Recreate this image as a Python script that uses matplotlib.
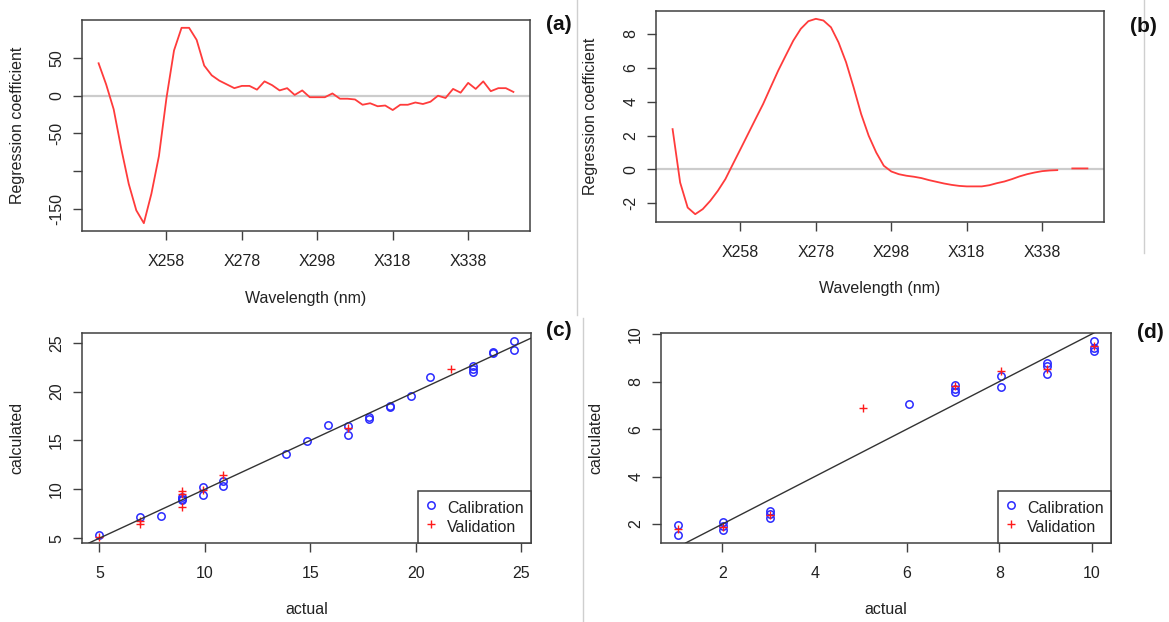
import numpy as np
import matplotlib.pyplot as plt
from matplotlib.lines import Line2D

plt.rcParams['font.family'] = ['Liberation Sans', 'DejaVu Sans']

# ---------------- data ----------------
wavelength = [240, 242, 244, 246, 248, 250, 252, 254, 256, 258,
              260, 262, 264, 266, 268, 270, 272, 274, 276, 278,
              280, 282, 284, 286, 288, 290, 292, 294, 296, 298,
              300, 302, 304, 306, 308, 310, 312, 314, 316, 318,
              320, 322, 324, 326, 328, 330, 332, 334, 336, 338,
              340, 342, 344, 346, 348, 350]

coef_a = [43, 15, -18, -70, -117, -152, -169, -130, -80, -3,
          60, 90, 90, 74, 40, 27, 20, 15, 10, 13,
          13, 8, 19, 14, 7, 10, 1, 7, -2, -2,
          -2, 3, -4, -4, -5, -12, -10, -14, -13, -19,
          -12, -12, -9, -11, -8, 0, -3, 9, 4, 17,
          9, 19, 6, 10, 10, 5]

coef_b = [2.38, -0.77, -2.25, -2.64, -2.34, -1.85, -1.26, -0.57, 0.32, 1.2,
          2.09, 2.98, 3.86, 4.85, 5.83, 6.72, 7.6, 8.3, 8.75, 8.89,
          8.79, 8.39, 7.5, 6.33, 4.85, 3.27, 1.99, 1.0, 0.22, -0.12,
          -0.28, -0.37, -0.43, -0.51, -0.63, -0.73, -0.83, -0.91, -0.97, -1.0,
          -1.0, -1.0, -0.93, -0.81, -0.71, -0.57, -0.41, -0.28, -0.18, -0.1,
          -0.06, -0.04, np.nan, 0.06, 0.06, 0.06]

wl_ticks = [258, 278, 298, 318, 338]
wl_labels = ['X258', 'X278', 'X298', 'X318', 'X338']

ticks_a = [-150, -100, -50, 0, 50]
labels_a = ['-150', '', '-50', '0', '50']
ticks_b = [-2, 0, 2, 4, 6, 8]

# (c) calibration / validation
cal_act_c = [4.96, 6.9, 7.9, 8.9, 8.9, 8.9, 9.92, 9.92, 10.85, 10.85, 13.85, 14.84,
             15.82, 16.77, 16.77, 17.79, 17.79, 18.77, 18.77, 19.76, 20.7,
             22.7, 22.7, 22.7, 23.69, 23.69, 24.68, 24.68]
cal_calc_c = [5.3, 7.18, 7.24, 9.2, 9.05, 8.95, 10.24, 9.39, 10.82, 10.3, 13.64, 14.9,
              16.53, 16.43, 15.58, 17.35, 17.15, 18.55, 18.4, 19.56, 21.53,
              22.62, 22.3, 22.0, 24.05, 23.9, 25.2, 24.25]
val_act_c = [4.96, 6.9, 6.9, 8.9, 8.9, 8.9, 9.92, 10.85, 16.77, 21.69]
val_calc_c = [5.1, 6.73, 6.4, 9.8, 9.55, 8.16, 9.97, 11.43, 16.26, 22.35]
ticks_c = [5, 10, 15, 20, 25]

# (d) calibration / validation
cal_act_d = [1.03, 1.03, 2.02, 2.02, 2.02, 3.04, 3.04, 3.04, 6.05, 7.05, 7.05, 7.05,
             8.04, 8.04, 9.03, 9.03, 9.03, 10.06, 10.06, 10.06]
cal_calc_d = [1.96, 1.53, 2.1, 1.92, 1.74, 2.55, 2.41, 2.27, 7.07, 7.87, 7.7, 7.55,
              8.22, 7.76, 8.78, 8.67, 8.33, 9.72, 9.4, 9.31]
val_act_d = [1.03, 2.02, 3.04, 5.04, 7.05, 8.04, 9.03, 10.06]
val_calc_d = [1.78, 1.89, 2.38, 6.88, 7.8, 8.46, 8.53, 9.51]
ticks_d_x = [2, 4, 6, 8, 10]
ticks_d_y = [2, 4, 6, 8, 10]

# ---------------- styling ----------------
W, H = 1169, 622
FS = 11.5
TXT = '#222222'
BOX = '#404040'
RED = '#ff3b3b'
BLUE = '#2a2aff'
PTRED = '#ff1a1a'


def px_box(l, t, r, b):
    return [l / W, 1 - b / H, (r - l) / W, (b - t) / H]


def r_lim(vals):
    v = np.asarray(vals, dtype=float)
    lo, hi = np.nanmin(v), np.nanmax(v)
    pad = 0.04 * (hi - lo)
    return lo - pad, hi + pad


def style(ax):
    for s in ax.spines.values():
        s.set_color(BOX)
        s.set_linewidth(1.1)
    ax.tick_params(direction='out', length=6.5, width=1.0, color=BOX,
                   labelsize=FS, labelcolor=TXT)
    ax.tick_params(axis='x', pad=9.8)
    ax.tick_params(axis='y', pad=6.3)


def labels(ax, xl, yl):
    l, b, w, h = ax.get_position().bounds
    xc = (l + w / 2)
    yc = (b + h / 2)
    fig.text(xc, b - 67 / H, xl, ha='center', va='center', fontsize=FS, color=TXT)
    fig.text(l - 65 / W, yc, yl, ha='center', va='center', rotation=90,
             fontsize=FS, color=TXT)


fig = plt.figure(figsize=(W / 100, H / 100), dpi=100)

ax_a = fig.add_axes(px_box(82, 20, 530, 231))
ax_b = fig.add_axes(px_box(656, 11, 1104, 222))
ax_c = fig.add_axes(px_box(82, 333, 531, 543))
ax_d = fig.add_axes(px_box(661, 333, 1111, 543))

# (a) and (b): regression coefficients
for ax, coef, yt, yl in [(ax_a, coef_a, ticks_a, labels_a),
                         (ax_b, coef_b, ticks_b, [str(t) for t in ticks_b])]:
    ax.axhline(0, color='#cccccc', lw=1.6, zorder=1)
    ax.plot(wavelength, coef, color=RED, lw=1.3, zorder=2)
    ax.set_xlim(*r_lim(wavelength))
    ax.set_ylim(*r_lim(coef))
    ax.set_xticks(wl_ticks)
    ax.set_xticklabels(wl_labels)
    ax.set_yticks(yt)
    ax.set_yticklabels(yl, rotation=90, va='center')
    style(ax)
    labels(ax, 'Wavelength (nm)', 'Regression coefficient')

# (c) and (d): actual vs calculated
for ax, ca, cc, va, vc, xt, yt in [
        (ax_c, cal_act_c, cal_calc_c, val_act_c, val_calc_c, ticks_c, ticks_c),
        (ax_d, cal_act_d, cal_calc_d, val_act_d, val_calc_d, ticks_d_x, ticks_d_y)]:
    ax.plot(ca, cc, ls='none', marker='o', mfc='none', mec=BLUE, ms=5.3,
            mew=1.1, label='Calibration', zorder=2)
    ax.plot(va, vc, ls='none', marker='+', color=PTRED, ms=6.2, mew=1.0,
            label='Validation', zorder=3)
    ax.axline((0, 0), slope=1, color='#333333', lw=1.0, zorder=4)
    ax.set_xlim(*r_lim(ca))
    ax.set_ylim(*r_lim(cc))
    ax.set_xticks(xt)
    ax.set_yticks(yt)
    ax.set_yticklabels([str(t) for t in yt], rotation=90, va='center')
    style(ax)
    leg = ax.legend(loc='lower right', borderaxespad=0, fancybox=False,
                    framealpha=1, edgecolor=BOX, fontsize=FS, borderpad=0.45,
                    labelspacing=0.0, handlelength=0.8, handletextpad=0.6,
                    handleheight=1.45)
    leg.get_frame().set_linewidth(1.1)
    for t in leg.get_texts():
        t.set_color(TXT)
    labels(ax, 'actual', 'calculated')

# panel letters
for x, y, s in [(559, 25, '(a)'), (1143, 26, '(b)'), (559, 330, '(c)'), (1150, 332, '(d)')]:
    fig.text(x / W, 1 - y / H, s, ha='center', va='center', fontsize=15,
             fontweight='bold', color='#111111')

# thin grey dividers of the composite picture
fig.add_artist(Line2D([577 / W, 577 / W], [1, 1 - 315 / H], color='#cfcfcf', lw=1.0))
fig.add_artist(Line2D([1144 / W, 1144 / W], [1, 1 - 253 / H], color='#cfcfcf', lw=1.0))
fig.add_artist(Line2D([583 / W, 583 / W], [1 - 318 / H, 0], color='#cfcfcf', lw=1.0))

fig.savefig('out.png', dpi=100)
